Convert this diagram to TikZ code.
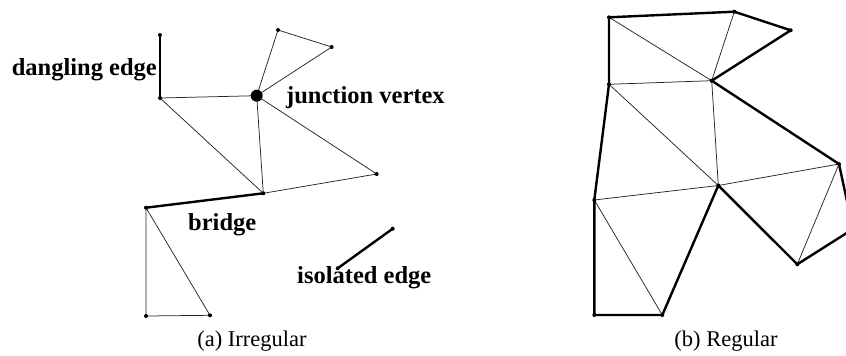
\documentclass[tikz,border=0pt]{standalone}
\usepackage{fontspec}
\setmainfont{Liberation Serif}
\usetikzlibrary{calc}

\begin{document}
\begin{tikzpicture}[x=1pt, y=-1pt, line join=round, line cap=round,
    thinedge/.style={line width=0.75pt, black!85},
    thickedge/.style={line width=2.4pt},
    lbl/.style={font=\fontsize{24.5}{28}\selectfont\bfseries, inner sep=0pt},
    caption/.style={font=\fontsize{22.5}{26}\selectfont, inner sep=0pt}]
  \clip (0,0) rectangle (846,356);
  % (a) irregular mesh
  \coordinate (dtop) at (160,35);
  \coordinate (b)    at (160,98);
  \coordinate (j)    at (256.7,95.7);
  \coordinate (t1)   at (278,30);
  \coordinate (t2)   at (331.7,47);
  \coordinate (r)    at (376.7,174);
  \coordinate (c)    at (263.3,193.3);
  \coordinate (d)    at (146,207.7);
  \coordinate (e)    at (146,316);
  \coordinate (f)    at (210,315.3);
  \coordinate (iso1) at (337.7,268.3);
  \coordinate (iso2) at (392.7,228.7);
  \draw[thinedge] (b) -- (j) -- (t1) -- (t2) -- (j) -- (r) -- (c) -- (j);
  \draw[thinedge] (b) -- (c);
  \draw[thinedge] (d) -- (e) -- (f) -- (d);
  \draw[thickedge] (dtop) -- (b);
  \draw[thickedge] (d) -- (c);
  \draw[thickedge] (iso1) -- (iso2);
  \foreach \v in {dtop,b,t1,t2,r,c,d,e,f,iso1,iso2}
    \fill (\v) circle (2);
  \fill (j) circle (6);
  \node[lbl, anchor=base east] (ldangle) at (157,75) {dangling edge};
  \node[lbl, anchor=base west] (ljunct) at (286,103) {junction vertex};
  \node[lbl, anchor=base west] (lbridge) at (188,230) {bridge};
  \node[lbl, anchor=base west] (liso) at (297,283) {isolated edge};
  \node[caption, anchor=base] (capa) at (252,346) {(a) Irregular};
  % (b) regular mesh
  \coordinate (p1)  at (609,17.3);
  \coordinate (p2)  at (734.3,11.7);
  \coordinate (p3)  at (790.7,30.3);
  \coordinate (p4)  at (711.7,80.7);
  \coordinate (p5)  at (609,84.3);
  \coordinate (p6)  at (839,164);
  \coordinate (p7)  at (718.3,185.5);
  \coordinate (p8)  at (594.3,200);
  \coordinate (p9)  at (797.3,264.3);
  \coordinate (p10) at (853,229);
  \coordinate (p11) at (594.3,315);
  \coordinate (p12) at (662.3,315);
  \draw[thinedge] (p1) -- (p4) -- (p2);
  \draw[thinedge] (p5) -- (p4) -- (p7) -- (p5);
  \draw[thinedge] (p8) -- (p7) -- (p6) -- (p9);
  \draw[thinedge] (p8) -- (p12);
  \draw[thickedge] (p1) -- (p2) -- (p3) -- (p4) -- (p6) -- (p10) -- (p9)
    -- (p7) -- (p12) -- (p11) -- (p8) -- (p5) -- cycle;
  \foreach \v in {p1,p2,p3,p4,p5,p6,p7,p8,p9,p11,p12}
    \fill (\v) circle (2);
  \node[caption, anchor=base] (capb) at (726,346) {(b) Regular};
\end{tikzpicture}
\end{document}
